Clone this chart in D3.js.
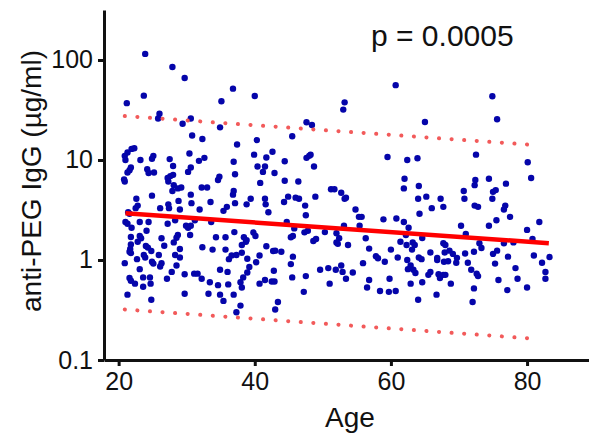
<!DOCTYPE html>
<html>
<head>
<meta charset="utf-8">
<script src="https://cdn.jsdelivr.net/npm/d3@7"></script>
<style>
  body { margin: 0; background: #fff; }
  text { font-family: "Liberation Sans", Arial, sans-serif; fill: #111; }
</style>
</head>
<body>
<div class="scatter"></div>
<script>
// values (age in years, anti-PEG IgG in ug/ml)
const ages = [
  23.9, 27.9, 29.7, 23.7, 21.2, 26.0, 25.8, 30.6, 29.4, 30.8, 32.3, 21.9, 22.3, 21.3, 20.9, 21.0,
  23.2, 25.1, 24.9, 27.5, 30.4, 31.8, 32.6, 30.6, 30.2, 21.8, 21.6, 21.3, 24.2, 24.4, 25.2, 28.0,
  28.0, 27.6, 27.2, 27.3, 20.8, 20.9, 27.9, 28.1, 28.7, 29.2, 30.6, 32.2, 24.9, 22.6, 22.8, 22.5,
  28.8, 30.7, 27.3, 27.4, 26.1, 29.0, 31.9, 21.4, 21.6, 21.0, 21.3, 21.9, 23.1, 24.4, 27.2, 28.3,
  29.9, 30.2, 30.6, 31.2, 21.8, 23.1, 23.3, 24.1, 26.3, 28.7, 28.5, 30.5, 21.8, 21.7, 21.8, 21.6,
  22.8, 24.0, 24.3, 24.8, 26.7, 28.1, 29.0, 23.7, 23.9, 25.9, 28.3, 29.0, 32.3, 20.9, 22.7, 24.9,
  25.1, 26.3, 26.1, 28.5, 23.1, 27.8, 29.7, 31.1, 31.6, 21.6, 21.8, 22.4, 23.6, 24.6, 24.7, 23.6,
  27.1, 32.2, 21.3, 24.8, 29.7,
  36.8, 40.0, 35.1, 34.9, 45.5, 40.3, 37.4, 39.9, 41.7, 42.6, 36.9, 40.4, 41.5, 41.2, 44.4, 37.1,
  42.9, 34.8, 34.6, 40.8, 44.4, 46.4, 33.0, 36.9, 36.8, 37.1, 39.4, 38.8, 41.5, 41.6, 42.0, 44.3,
  44.9, 46.0, 46.5, 33.5, 35.9, 35.4, 33.6, 44.7, 37.0, 38.4, 38.7, 38.8, 39.8, 40.1, 38.1, 34.3,
  35.7, 41.7, 42.7, 43.0, 43.9, 45.6, 45.8, 45.3, 33.8, 35.7, 36.2, 36.6, 37.3, 38.1, 38.9, 40.7,
  40.2, 39.2, 38.9, 38.3, 37.9, 38.1, 34.9, 36.0, 33.4, 34.6, 36.1, 40.7, 41.5, 42.5, 42.9, 42.8,
  45.3, 45.6, 45.5, 33.2, 34.9, 36.9, 35.4, 37.9, 37.3, 43.4, 43.0,
  47.6, 48.4, 53.2, 53.0, 60.7, 47.6, 48.0, 48.2, 48.7, 59.5, 48.9, 51.2, 51.7, 52.7, 53.2, 53.4,
  47.4, 47.5, 54.8, 55.3, 55.7, 55.4, 53.1, 47.3, 47.8, 48.6, 49.0, 50.3, 52.0, 52.4, 52.0, 52.2,
  53.7, 56.3, 56.8, 57.8, 58.1, 55.9, 59.1, 60.0, 61.0, 58.9, 60.8, 47.5, 49.6, 50.8, 51.9, 52.7,
  52.9, 54.4, 53.4, 51.0, 56.8, 56.5, 58.4, 59.8, 59.7, 60.7, 47.2,
  74.9, 65.0, 72.5, 62.4, 63.9, 62.0, 61.9, 64.1, 64.0, 65.2, 64.2, 66.0, 67.3, 67.7, 70.7, 70.8,
  72.4, 72.3, 72.3, 72.8, 74.4, 75.0, 74.9, 61.9, 62.6, 62.2, 61.4, 62.3, 63.2, 63.5, 63.1, 64.6,
  62.4, 62.9, 62.5, 63.6, 63.3, 64.1, 64.5, 65.8, 66.8, 66.8, 67.7, 68.0, 67.9, 68.6, 67.8, 68.4,
  69.1, 69.7, 69.6, 70.3, 71.0, 70.9, 71.3, 72.2, 73.0, 73.3, 74.4, 75.0, 71.8, 72.6, 72.8, 65.8,
  65.5, 67.0, 67.2, 67.7, 68.0, 68.8, 64.6, 62.9, 64.0, 66.7, 72.2, 72.0,
  75.6, 80.1, 80.6, 76.9, 75.4, 76.8, 76.6, 77.5, 75.5, 81.8, 80.0, 80.8, 76.6, 78.0, 75.6, 77.2,
  81.0, 83.3, 75.3, 78.3, 82.2, 82.7, 82.7, 75.8, 78.6, 77.1, 80.0
]

const iggLevels = [
  115, 85, 66, 44, 37, 29, 26, 26, 23, 17.6, 16.2, 12.9, 13.1, 11.9, 11, 10,
  10, 11, 10.3, 10.2, 11.6, 9.8, 10.5, 8.4, 7.6, 8.4, 7.9, 7.5, 8.1, 7.4, 7.5, 8.7,
  7.1, 6.9, 6.6, 6.1, 6.4, 6.1, 4.9, 5.6, 5.2, 5.3, 4.5, 5.3, 4.4, 4.1, 3.5, 3.3,
  3.9, 3.7, 3.6, 3.3, 3.3, 3.2, 3.2, 3.0, 2.9, 2.4, 2.3, 2.1, 2.4, 2.4, 2.3, 2.5,
  2.2, 2.1, 2.2, 2.5, 1.7, 1.74, 1.65, 1.96, 1.65, 1.78, 1.67, 1.78, 1.43, 1.29, 1.17, 1.21,
  1.52, 1.38, 1.33, 1.23, 1.39, 1.5, 1.29, 1.12, 1.06, 1.12, 1.12, 1.06, 1.34, 0.93, 1.02, 0.96,
  0.92, 0.93, 0.86, 0.88, 0.81, 0.76, 0.72, 0.73, 0.73, 0.66, 0.62, 0.58, 0.67, 0.67, 0.58, 0.54,
  0.65, 0.65, 0.45, 0.40, 0.46,
  51.7, 43.6, 38.6, 21.2, 17.3, 15.8, 14.3, 11.3, 10.6, 12.1, 9.6, 8.6, 8.6, 7.6, 9.7, 7.2,
  7.4, 6.8, 6.3, 5.9, 6.2, 6.1, 5.3, 4.9, 4.5, 3.7, 4.1, 3.6, 4.1, 3.6, 3.0, 3.8,
  4.3, 4.2, 4.1, 3.8, 3.4, 3.1, 2.4, 2.4, 1.9, 1.69, 1.52, 1.58, 1.88, 1.74, 1.41, 1.69,
  1.69, 1.37, 1.23, 1.24, 1.21, 1.74, 2.07, 1.69, 1.27, 1.27, 1.02, 1.11, 1.12, 1.18, 1.03, 1.11,
  0.95, 0.85, 0.75, 0.67, 0.60, 0.53, 0.80, 0.76, 0.60, 0.56, 0.57, 0.58, 0.63, 0.61, 0.61, 0.78,
  0.91, 1.08, 0.67, 0.46, 0.45, 0.45, 0.39, 0.35, 0.30, 0.38, 0.32,
  23.8, 22.4, 37.7, 31.9, 56, 10.5, 11.0, 11.3, 8.6, 10.7, 4.3, 5.1, 5.1, 4.7, 4.1, 4.2,
  3.5, 2.8, 3.2, 2.7, 2.7, 2.2, 2.2, 1.89, 1.96, 1.55, 1.62, 1.9, 1.85, 1.65, 1.5, 1.45,
  1.41, 1.65, 1.30, 1.09, 1.04, 0.93, 0.96, 1.27, 1.06, 2.55, 2.6, 0.69, 0.8, 0.83, 0.80, 0.88,
  0.76, 0.75, 0.65, 0.58, 0.63, 0.53, 0.49, 0.65, 0.48, 0.49, 0.48,
  43.4, 24, 11.3, 10.0, 10.4, 6.5, 5.2, 5.5, 4.1, 4.3, 2.9, 3.3, 4.1, 3.4, 4.9, 4.1,
  6.3, 5.6, 3.5, 3.4, 6.5, 4.8, 4.1, 2.4, 2.1, 1.78, 1.52, 1.41, 1.5, 1.41, 1.27, 1.66,
  1.0, 0.88, 0.81, 0.74, 0.8, 1.06, 1.02, 1.19, 1.05, 1.0, 1.47, 1.41, 1.19, 1.24, 0.96, 0.97,
  1.15, 1.05, 0.94, 2.2, 1.82, 1.16, 0.94, 1.21, 1.47, 1.32, 2.2, 1.15, 0.80, 0.73, 0.69, 0.76,
  0.71, 0.72, 0.66, 0.71, 0.71, 0.58, 0.6, 0.58, 0.40, 0.45, 0.52, 0.38,
  25.5, 9.5, 6.6, 5.8, 5.0, 3.5, 3.2, 2.7, 2.5, 2.4, 2.0, 1.62, 1.47, 1.5, 1.24, 1.08,
  1.11, 1.07, 0.92, 0.83, 0.94, 0.76, 0.65, 0.63, 0.65, 0.50, 0.53
]

// regression line and its prediction band
const fitAges = [21, 83.2]
const fitLevels = [2.93, 1.47]
const bandAges = [20.9, 81.8]
const upperBand = [27.5, 14.0]
const lowerBand = [0.32, 0.162]

const xTicks = [20, 40, 60, 80]
const yTicks = [0.1, 1, 10, 100]
const yTickLabels = ["0.1", "1", "10", "100"]

const pLabel = "p = 0.0005"
const xLabel = "Age"
const yLabel = "anti-PEG IgG (\u00b5g/ml)"

const dataset = ages.map((a, i) => ({ age: a, level: iggLevels[i] }))

let dimensions = {
    width: 589,
    height: 436,
    margin: { top: 10, right: 0, bottom: 76, left: 104 }
}
dimensions.boundedWidth = dimensions.width - dimensions.margin.left - dimensions.margin.right
dimensions.boundedHeight = dimensions.height - dimensions.margin.top - dimensions.margin.bottom

const wrapper = d3.select(".scatter")
    .append("svg")
    .attr("width", dimensions.width)
    .attr("height", dimensions.height)

const bounds = wrapper.append("g")
    .attr("transform", `translate(${dimensions.margin.left},${dimensions.margin.top})`)

const xScale = d3.scaleLinear()
    .domain([17.85, 89.1])
    .range([0, dimensions.boundedWidth])

const yScale = d3.scaleLog()
    .domain([0.1, 316])
    .range([dimensions.boundedHeight, 0])

// points
bounds.append("g")
    .selectAll("circle")
    .data(dataset)
    .join("circle")
    .attr("cx", d => xScale(d.age))
    .attr("cy", d => yScale(d.level))
    .attr("r", 3.2)
    .attr("fill", "#0505aa")

// dotted band lines
const lineGen = d3.line()
    .x(d => xScale(d[0]))
    .y(d => yScale(d[1]))

;[upperBand, lowerBand].forEach(band => {
    bounds.append("path")
        .attr("d", lineGen(bandAges.map((a, i) => [a, band[i]])))
        .attr("fill", "none")
        .attr("stroke", "#f25a5a")
        .attr("stroke-width", 4)
        .attr("stroke-linecap", "round")
        .attr("stroke-dasharray", "0.1 12.5")
})

// fit line
bounds.append("path")
    .attr("d", lineGen(fitAges.map((a, i) => [a, fitLevels[i]])))
    .attr("fill", "none")
    .attr("stroke", "#ff0000")
    .attr("stroke-width", 4.5)

// axes
const yAxisGenerator = d3.axisLeft(yScale)
    .tickValues(yTicks)
    .tickFormat((d, i) => yTickLabels[i])
    .tickSize(6)
    .tickSizeOuter(0)
    .tickPadding(5)

const xAxisGenerator = d3.axisBottom(xScale)
    .tickValues(xTicks)
    .tickSize(6)
    .tickSizeOuter(0)
    .tickPadding(6)

const yAxis = bounds.append("g").call(yAxisGenerator)
const xAxis = bounds.append("g")
    .attr("transform", `translate(0,${dimensions.boundedHeight})`)
    .call(xAxisGenerator)

;[xAxis, yAxis].forEach(ax => {
    ax.select(".domain").attr("stroke", "#111").attr("stroke-width", 3)
    ax.selectAll(".tick line").attr("stroke", "#111").attr("stroke-width", 3)
    ax.selectAll(".tick text").attr("font-size", 25).attr("fill", "#111")
        .attr("font-family", "'Liberation Sans', Arial, sans-serif")
})

// labels
wrapper.append("text")
    .attr("x", 350)
    .attr("y", 427)
    .attr("text-anchor", "middle")
    .attr("font-size", 28)
    .text(xLabel)

wrapper.append("text")
    .attr("transform", "translate(41,181) rotate(-90)")
    .attr("text-anchor", "middle")
    .attr("font-size", 28)
    .text(yLabel)

wrapper.append("text")
    .attr("x", 371)
    .attr("y", 46)
    .attr("font-size", 30)
    .text(pLabel)
</script>
</body>
</html>
